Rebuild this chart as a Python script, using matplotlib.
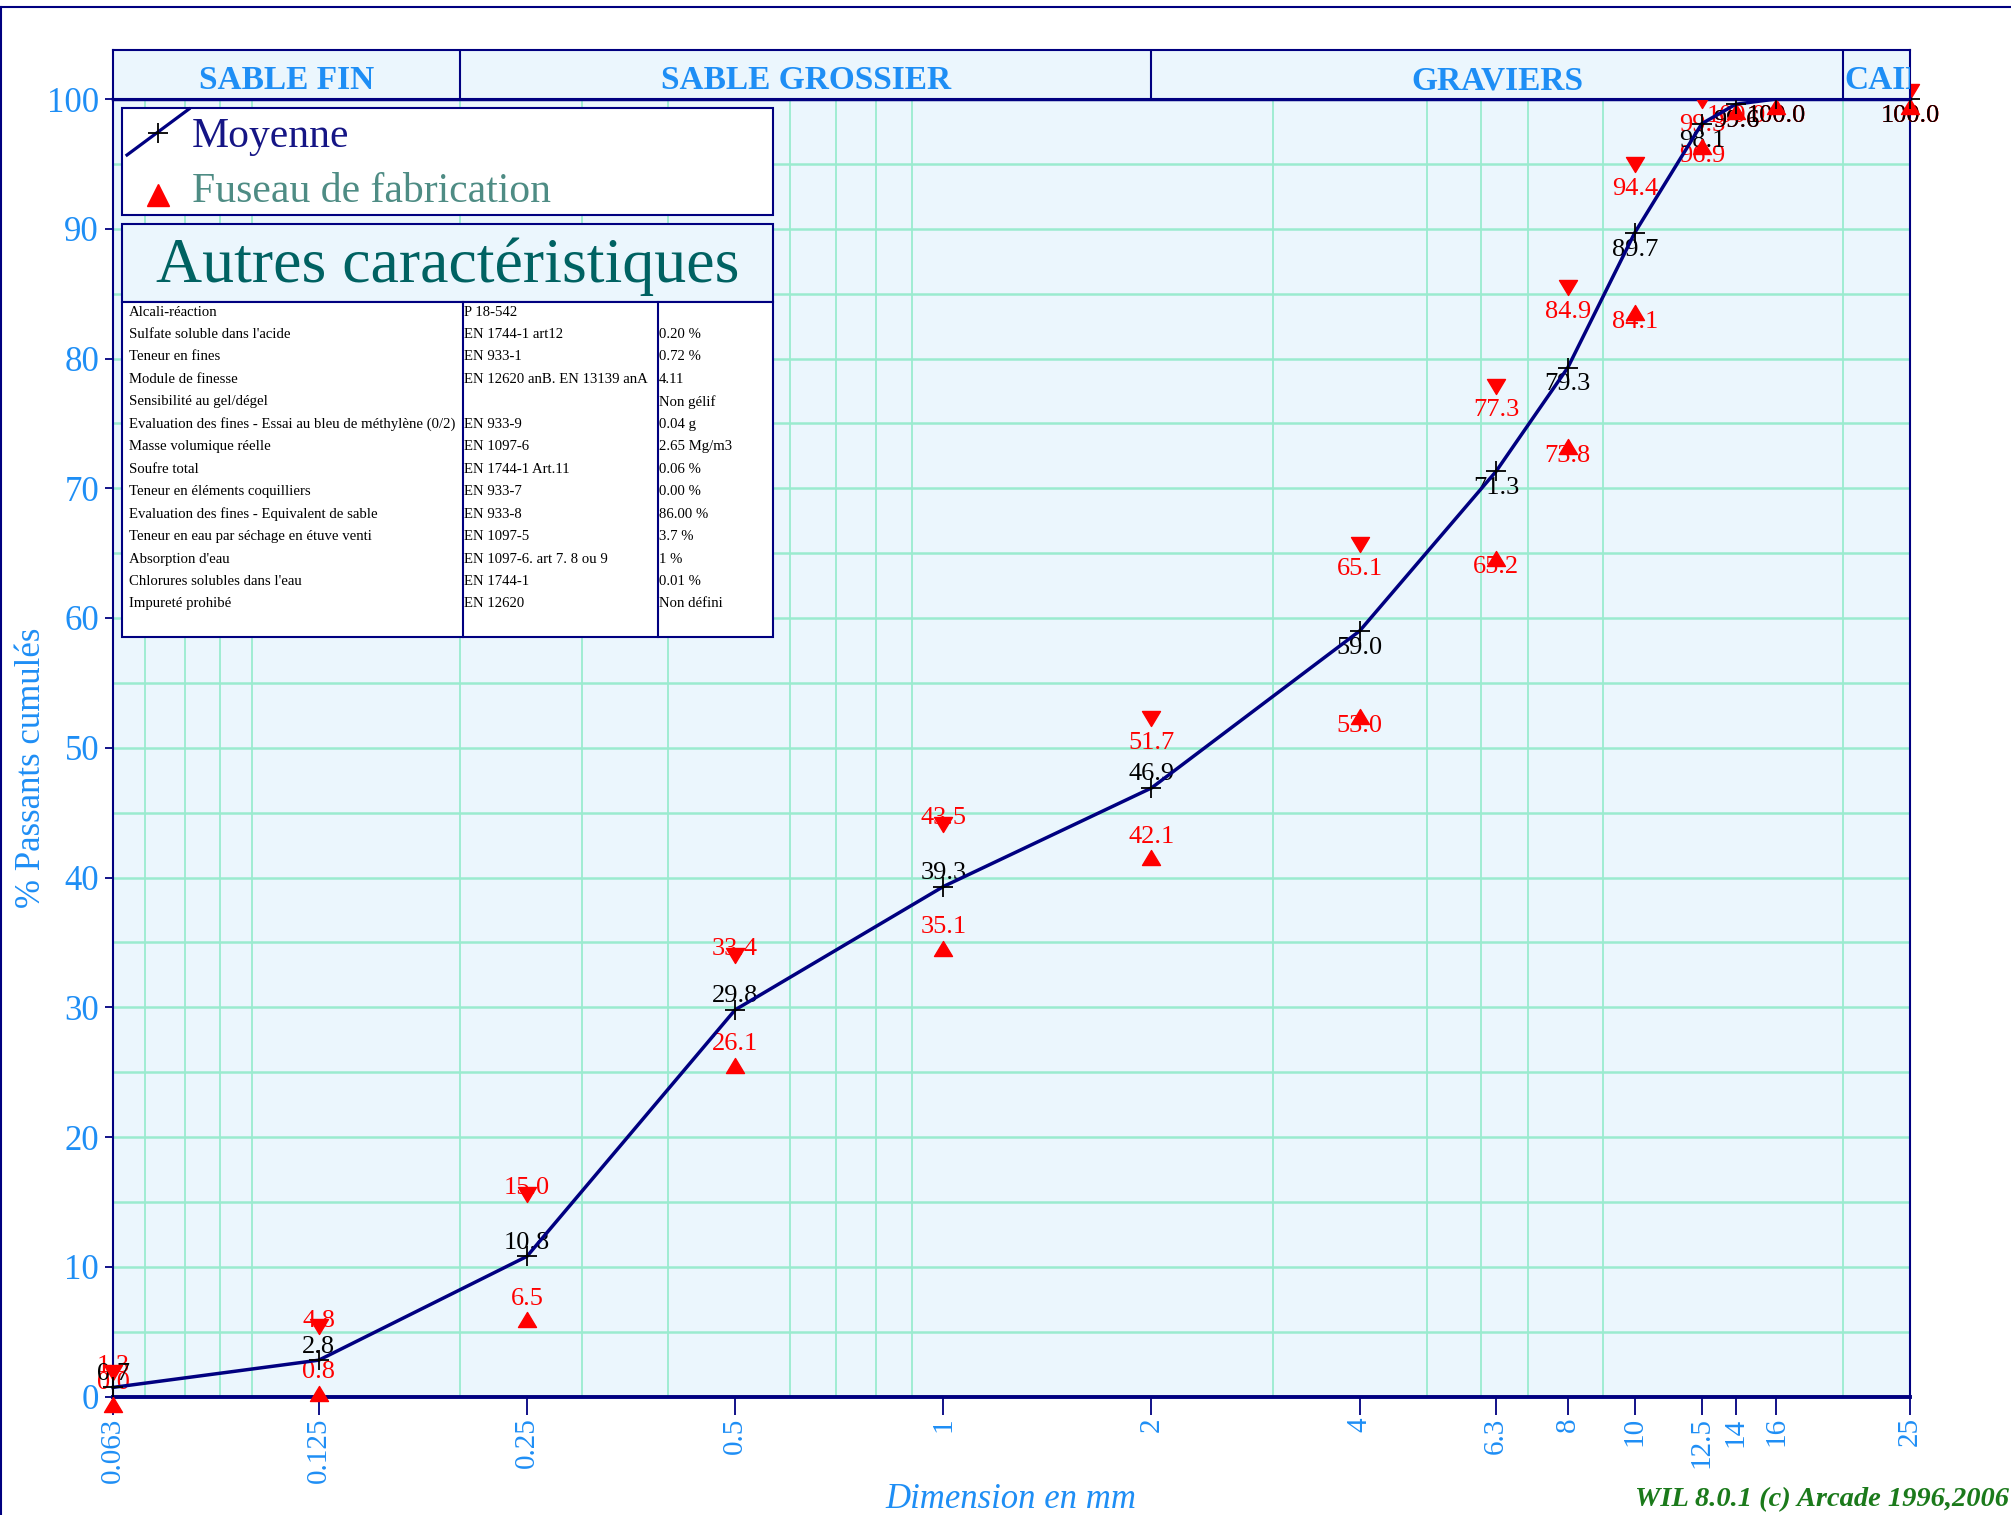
import matplotlib
matplotlib.use('Agg')
import matplotlib.pyplot as plt
from matplotlib.patches import Rectangle
from matplotlib.path import Path
from matplotlib.lines import Line2D

plt.rcParams['font.family'] = ['Liberation Serif', 'DejaVu Serif']

# ---- data ----
tamis = [0.063, 0.125, 0.25, 0.5, 1, 2, 4, 6.3, 8, 10, 12.5, 14, 16, 25]
tamis_labels = ['0.063', '0.125', '0.25', '0.5', '1', '2', '4', '6.3', '8',
                '10', '12.5', '14', '16', '25']
moyenne = [0.7, 2.8, 10.8, 29.8, 39.3, 46.9, 59.0, 71.3, 79.3, 89.7, 98.1, 99.6, 100.0, 100.0]
fuseau_sup = [1.3, 4.8, 15.0, 33.4, 43.5, 51.7, 65.1, 77.3, 84.9, 94.4, 99.3, 100.0, 100.0, 100.0]
fuseau_inf = [0.0, 0.8, 6.5, 26.1, 35.1, 42.1, 53.0, 65.2, 73.8, 84.1, 96.9, 99.6, 100.0, 100.0]

classes = ['SABLE FIN', 'SABLE GROSSIER', 'GRAVIERS', 'CAILLOUX']
classes_bornes = [0.063, 0.2, 2, 20, 25]

carac_noms = ['Alcali-réaction', "Sulfate soluble dans l'acide", 'Teneur en fines',
              'Module de finesse', 'Sensibilité au gel/dégel',
              'Evaluation des fines - Essai au bleu de méthylène (0/2)',
              'Masse volumique réelle', 'Soufre total', 'Teneur en éléments coquilliers',
              'Evaluation des fines - Equivalent de sable',
              'Teneur en eau par séchage en étuve venti', "Absorption d'eau",
              "Chlorures solubles dans l'eau", 'Impureté prohibé']
carac_normes = ['P 18-542', 'EN 1744-1 art12', 'EN 933-1', 'EN 12620 anB. EN 13139 anA', '',
                'EN 933-9', 'EN 1097-6', 'EN 1744-1 Art.11', 'EN 933-7', 'EN 933-8',
                'EN 1097-5', 'EN 1097-6. art 7. 8 ou 9', 'EN 1744-1', 'EN 12620']
carac_valeurs = ['', '0.20 %', '0.72 %', '4.11', 'Non gélif', '0.04 g', '2.65 Mg/m3',
                 '0.06 %', '0.00 %', '86.00 %', '3.7 %', '1 %', '0.01 %', 'Non défini']

BLEU = '#1E8EF5'
NAVY = '#000080'
FOND = '#EBF6FD'
GRILLE = '#9AEBCF'

W, H = 2011, 1515
fig = plt.figure(figsize=(W / 100, H / 100), dpi=100)

# axes position in pixels of the reference
AX_L, AX_R, AX_T, AX_B = 113, 1910, 99, 1396.5
ax = fig.add_axes([AX_L / W, 1 - AX_B / H, (AX_R - AX_L) / W, (AX_B - AX_T) / H])
ax.set_facecolor(FOND)


def fx(px):
    return (px - AX_L) / (AX_R - AX_L)


def fy(py):
    return (AX_B - py) / (AX_B - AX_T)


ax.set_xscale('log')
ax.set_xlim(tamis[0], tamis[-1])
ax.set_ylim(0, 100)

ax.set_xticks(tamis, tamis_labels, rotation=90)
grid_x = [k * 10.0 ** e for e in (-2, -1, 0, 1) for k in range(1, 10)]
grid_x = [g for g in grid_x if tamis[0] < g < tamis[-1]]
ax.set_xticks(grid_x, minor=True)
ax.set_xticklabels([], minor=True)
ax.set_yticks(range(0, 101, 10))
ax.set_yticks(range(5, 100, 10), minor=True)
ax.tick_params(axis='x', which='major', length=13, width=1.3, color=NAVY,
               labelcolor=BLEU, labelsize=21, pad=2)
ax.tick_params(axis='y', which='major', length=6, width=1.3, color=NAVY,
               labelcolor=BLEU, labelsize=25, pad=4)
ax.tick_params(which='minor', length=0)
ax.xaxis.grid(True, which='minor', color=GRILLE, lw=1.3)
ax.yaxis.grid(True, which='both', color=GRILLE, lw=1.8)
ax.set_axisbelow(True)
for side, lw in [('left', 1.5), ('right', 1.5), ('top', 2.5), ('bottom', 2.8)]:
    ax.spines[side].set_color(NAVY)
    ax.spines[side].set_linewidth(lw)

# markers with the apex on the value
tri_down = Path([(0, 0), (-0.6, 1), (0.6, 1), (0, 0)], closed=True)
tri_up = Path([(0, 0), (-0.6, -1), (0.6, -1), (0, 0)], closed=True)


def etiquettes(valeurs, couleur, z):
    for x, v in zip(tamis, valeurs):
        dy = 5.5 if v <= 50 else -16.5
        ax.annotate(f'{v:.1f}', (x, v), xytext=(0, dy), textcoords='offset points',
                    ha='center', va='baseline', fontsize=19, color=couleur,
                    annotation_clip=False, zorder=z)


etiquettes(fuseau_sup, 'red', 3)
etiquettes(fuseau_inf, 'red', 3)
etiquettes(moyenne, 'black', 4)

ax.plot(tamis, fuseau_sup, ls='none', marker=tri_down, ms=21.6, color='red',
        clip_on=False, zorder=5)
ax.plot(tamis, fuseau_inf, ls='none', marker=tri_up, ms=21.6, color='red',
        clip_on=False, zorder=5)
ax.plot(tamis, moyenne, color=NAVY, lw=2.5, clip_on=False, zorder=6)
ax.plot(tamis, moyenne, ls='none', marker='+', ms=14, mew=1.3, color='black',
        clip_on=False, zorder=7)

# ---- legend box ----
ta = ax.transAxes
ax.add_patch(Rectangle((fx(122), fy(215)), fx(773) - fx(122), fy(108) - fy(215),
                       transform=ta, facecolor='white', edgecolor=NAVY, lw=1.5, zorder=10))
ax.add_artist(Line2D([fx(127), fx(189)], [fy(155), fy(109)], transform=ta,
                     color=NAVY, lw=2.3, zorder=11))
ax.plot([fx(158)], [fy(133)], transform=ta, marker='+', ms=14, mew=1.3,
        color='black', zorder=12)
ax.plot([fx(158)], [fy(195)], transform=ta, marker='^', ms=16, color='red', zorder=12)
ax.text(fx(192), fy(137), 'Moyenne', transform=ta, fontsize=30, color='#151585',
        ha='left', va='center', zorder=12)
ax.text(fx(192), fy(192), 'Fuseau de fabrication', transform=ta, fontsize=30,
        color='#4E8C84', ha='left', va='center', zorder=12)

# ---- "Autres caractéristiques" table ----
ax.add_patch(Rectangle((fx(122), fy(302)), fx(773) - fx(122), fy(224) - fy(302),
                       transform=ta, facecolor=FOND, edgecolor=NAVY, lw=1.5, zorder=10))
ax.add_patch(Rectangle((fx(122), fy(637)), fx(773) - fx(122), fy(302) - fy(637),
                       transform=ta, facecolor='white', edgecolor=NAVY, lw=1.5, zorder=10))
for cx in (463, 658):
    ax.add_artist(Line2D([fx(cx), fx(cx)], [fy(302), fy(637)], transform=ta,
                         color=NAVY, lw=1.5, zorder=11))
ax.text(fx(447.5), fy(267), 'Autres caractéristiques', transform=ta, fontsize=46,
        color='#006262', ha='center', va='center', zorder=12)
for i, (nom, norme, val) in enumerate(zip(carac_noms, carac_normes, carac_valeurs)):
    yy = fy(312 + i * 22.46)
    ax.text(fx(129), yy, nom, transform=ta, fontsize=10.6, ha='left', va='center', zorder=12)
    ax.text(fx(464), yy, norme, transform=ta, fontsize=10.6, ha='left', va='center', zorder=12)
    ax.text(fx(659), yy, val, transform=ta, fontsize=10.6, ha='left', va='center', zorder=12)

# ---- header band with the classes ----
hax = fig.add_axes([AX_L / W, 1 - AX_T / H, (AX_R - AX_L) / W, (AX_T - 50) / H])
hax.set_facecolor(FOND)
hax.set_xscale('log')
hax.set_xlim(tamis[0], tamis[-1])
hax.set_ylim(0, 1)
hax.set_xticks([])
hax.set_yticks([])
hax.minorticks_off()
for s in hax.spines.values():
    s.set_color(NAVY)
    s.set_linewidth(1.5)
for b in classes_bornes[1:-1]:
    hax.axvline(b, color=NAVY, lw=1.5)
for k, nom in enumerate(classes):
    a, b = classes_bornes[k], classes_bornes[k + 1]
    if k < len(classes) - 1:
        hax.text((a * b) ** 0.5, 0.2, nom, ha='center', va='baseline', fontsize=24,
                 fontweight='bold', color=BLEU)
    else:
        hax.text(a * 1.003, 0.2, nom, ha='left', va='baseline', fontsize=24,
                 fontweight='bold', color=BLEU, clip_on=True)

# ---- figure texts ----
fig.text(32 / W, 1 - 768 / H, '% Passants cumulés', rotation=90, ha='center',
         va='center', fontsize=25, color=BLEU)
fig.text(1011 / W, 1 - 1500 / H, 'Dimension en mm', ha='center', va='center',
         fontsize=25, style='italic', color=BLEU)
fig.text(2009 / W, 1 - 1500 / H, 'WIL 8.0.1 (c) Arcade 1996,2006', ha='right',
         va='center', fontsize=20.5, style='italic', fontweight='bold', color='#1B7A1B')

fig.add_artist(Line2D([0, 1], [1 - 7 / H] * 2, transform=fig.transFigure, color=NAVY, lw=1.5))
fig.add_artist(Line2D([1 / W] * 2, [0, 1 - 7 / H], transform=fig.transFigure, color=NAVY, lw=1.5))

fig.savefig('out.png', dpi=100)
